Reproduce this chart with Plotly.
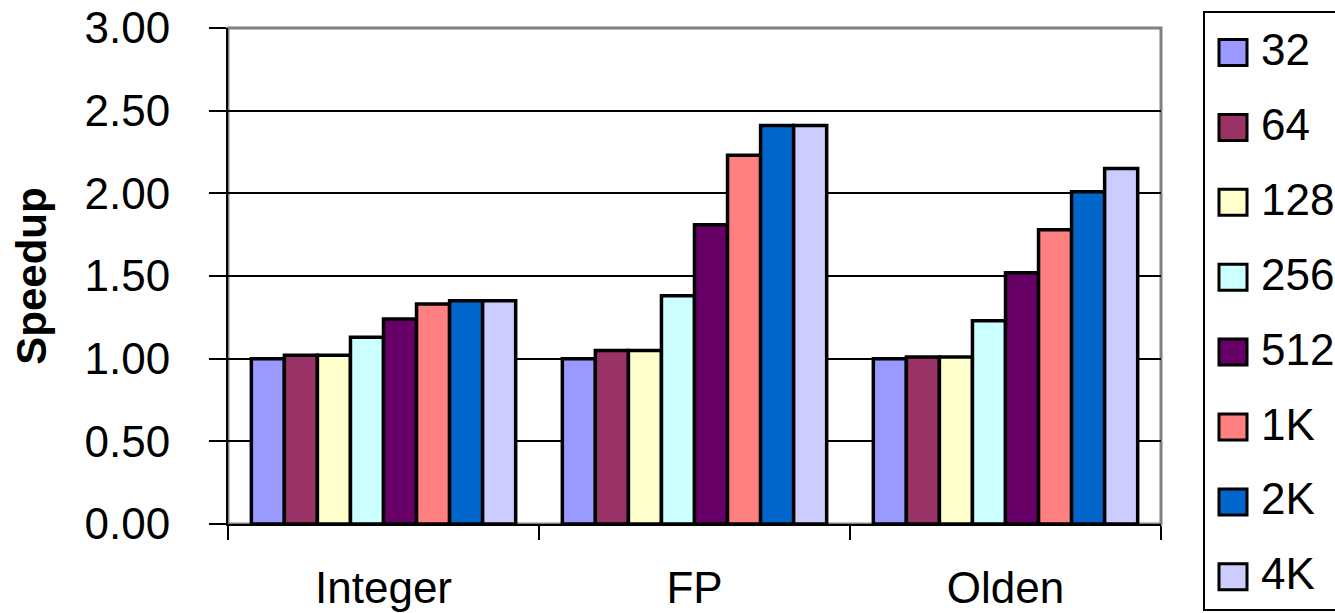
import plotly.graph_objects as go

# Benchmark suites on the x axis
suites = ["Integer", "FP", "Olden"]

# Speedup for each buffer size, one list per size (Integer, FP, Olden)
sizes = ["32", "64", "128", "256", "512", "1K", "2K", "4K"]
speedup_32 = [1.00, 1.00, 1.00]
speedup_64 = [1.02, 1.05, 1.01]
speedup_128 = [1.02, 1.05, 1.01]
speedup_256 = [1.13, 1.38, 1.23]
speedup_512 = [1.24, 1.81, 1.52]
speedup_1k = [1.33, 2.23, 1.78]
speedup_2k = [1.35, 2.41, 2.01]
speedup_4k = [1.35, 2.41, 2.15]

series = [speedup_32, speedup_64, speedup_128, speedup_256,
          speedup_512, speedup_1k, speedup_2k, speedup_4k]
colors = ["#9999FF", "#993366", "#FFFFCC", "#CCFFFF",
          "#660066", "#FF8080", "#0066CC", "#CCCCFF"]

FONT = "Liberation Sans, Arial, sans-serif"
W, H = 1335, 613
ML, MR, MT, MB = 228, 174, 28, 89
PW, PH = W - ML - MR, H - MT - MB


def px_x(x):
    return (x - ML) / PW


def px_y(y):
    return (H - MB - y) / PH


fig = go.Figure()
for name, vals, col in zip(sizes, series, colors):
    fig.add_trace(go.Bar(
        x=suites, y=vals, name=name, showlegend=False,
        marker=dict(color=col, line=dict(color="black", width=3.5)),
    ))

shapes = [
    # grey plot-area frame
    dict(type="rect", xref="paper", yref="paper", x0=0, x1=1, y0=0, y1=1,
         line=dict(color="#808080", width=3), layer="below"),
    # legend box
    dict(type="rect", xref="paper", yref="paper",
         x0=px_x(1204), x1=px_x(1345), y0=px_y(610), y1=px_y(12),
         line=dict(color="black", width=2)),
]
annotations = []

# legend entries: swatch + label, evenly spaced down the box
first_c, step = 52.5, 74.9
for i, (name, col) in enumerate(zip(sizes, colors)):
    cy = first_c + i * step
    shapes.append(dict(
        type="rect", xref="paper", yref="paper",
        x0=px_x(1219), x1=px_x(1247), y0=px_y(cy + 13), y1=px_y(cy - 13),
        fillcolor=col, line=dict(color="black", width=3)))
    annotations.append(dict(
        xref="paper", yref="paper", x=px_x(1259), y=px_y(cy - 3),
        xanchor="left", yanchor="middle", text=name, showarrow=False,
        font=dict(family=FONT, size=44, color="black")))

fig.update_layout(
    width=W, height=H,
    margin=dict(l=ML, r=MR, t=MT, b=MB, autoexpand=False),
    paper_bgcolor="white", plot_bgcolor="white",
    barmode="group", bargap=0.15, bargroupgap=0,
    font=dict(family=FONT, size=44, color="black"),
    shapes=shapes, annotations=annotations,
    showlegend=False,
)
fig.update_xaxes(
    type="category", tickson="boundaries", ticks="outside", ticklen=14,
    tickwidth=2, tickcolor="black", showline=True, linecolor="black",
    linewidth=2, showgrid=False, ticklabelstandoff=24,
    tickfont=dict(family=FONT, size=44, color="black"),
)
fig.update_yaxes(
    range=[0, 3], dtick=0.5, tickformat=".2f", ticks="outside", ticklen=17,
    tickwidth=2, tickcolor="black", showline=True, linecolor="black",
    linewidth=2, showgrid=True, gridcolor="black", gridwidth=1.5,
    zeroline=False, ticklabelstandoff=30,
    tickfont=dict(family=FONT, size=44, color="black"),
    title=dict(text="Speedup", standoff=25,
               font=dict(family=FONT, size=42, color="black", weight="bold")),
)

fig.write_html("out.html")
